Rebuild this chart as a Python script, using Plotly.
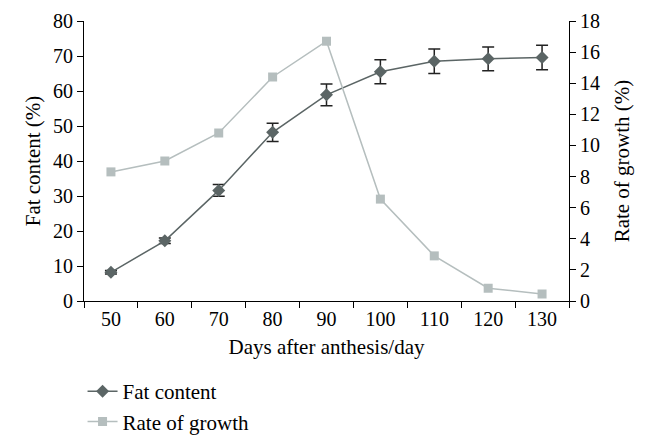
import plotly.graph_objects as go

days = ["50", "60", "70", "80", "90", "100", "110", "120", "130"]
fat_content = [8.2, 17.2, 31.6, 48.2, 58.9, 65.5, 68.5, 69.2, 69.6]
fat_error = [0.5, 0.8, 1.7, 2.6, 3.1, 3.4, 3.5, 3.4, 3.5]
growth_rate = [8.3, 9.0, 10.8, 14.4, 16.7, 6.55, 2.9, 0.82, 0.45]

FONT = "Liberation Serif"
dark = "#5b6565"
light = "#b5bebe"

fig = go.Figure()
fig.add_trace(go.Scatter(
    x=days, y=fat_content, name="Fat content", mode="lines+markers",
    line=dict(color=dark, width=1.5),
    marker=dict(symbol="diamond", size=10, color=dark),
    error_y=dict(type="data", array=fat_error, visible=True, color="#222222", thickness=1.5, width=6),
    yaxis="y",
))
fig.add_trace(go.Scatter(
    x=days, y=growth_rate, name="Rate of growth", mode="lines+markers",
    line=dict(color=light, width=1.5),
    marker=dict(symbol="square", size=9, color=light),
    yaxis="y2",
))

axis_common = dict(showline=True, linecolor="black", linewidth=1.2, ticks="outside",
                   tickcolor="black", ticklen=6, showgrid=False, zeroline=False,
                   automargin=False,
                   tickfont=dict(family=FONT, size=20, color="black"))

fig.update_layout(
    width=654, height=444,
    margin=dict(l=76, r=93, t=13, b=151, autoexpand=False),
    paper_bgcolor="white", plot_bgcolor="white",
    font=dict(family=FONT, size=20, color="black"),
    xaxis=dict(type="category", range=[-0.5, 8.5], tickson="boundaries",
               title=dict(text="Days after anthesis/day", font=dict(family=FONT, size=21), standoff=10),
               **axis_common),
    yaxis=dict(range=[0, 80], dtick=10,
               title=dict(text="Fat content (%)", font=dict(family=FONT, size=21), standoff=6),
               **axis_common),
    yaxis2=dict(range=[0, 18], dtick=2, overlaying="y", side="right",
                title=dict(text="Rate of growth (%)", font=dict(family=FONT, size=21), standoff=15),
                **axis_common),
    showlegend=True,
    legend=dict(x=-0.003, y=-0.25, xanchor="left", yanchor="top", orientation="v",
                font=dict(family=FONT, size=21, color="black"), tracegroupgap=0,
                bgcolor="rgba(0,0,0,0)"),
)

fig.write_html("out.html")
